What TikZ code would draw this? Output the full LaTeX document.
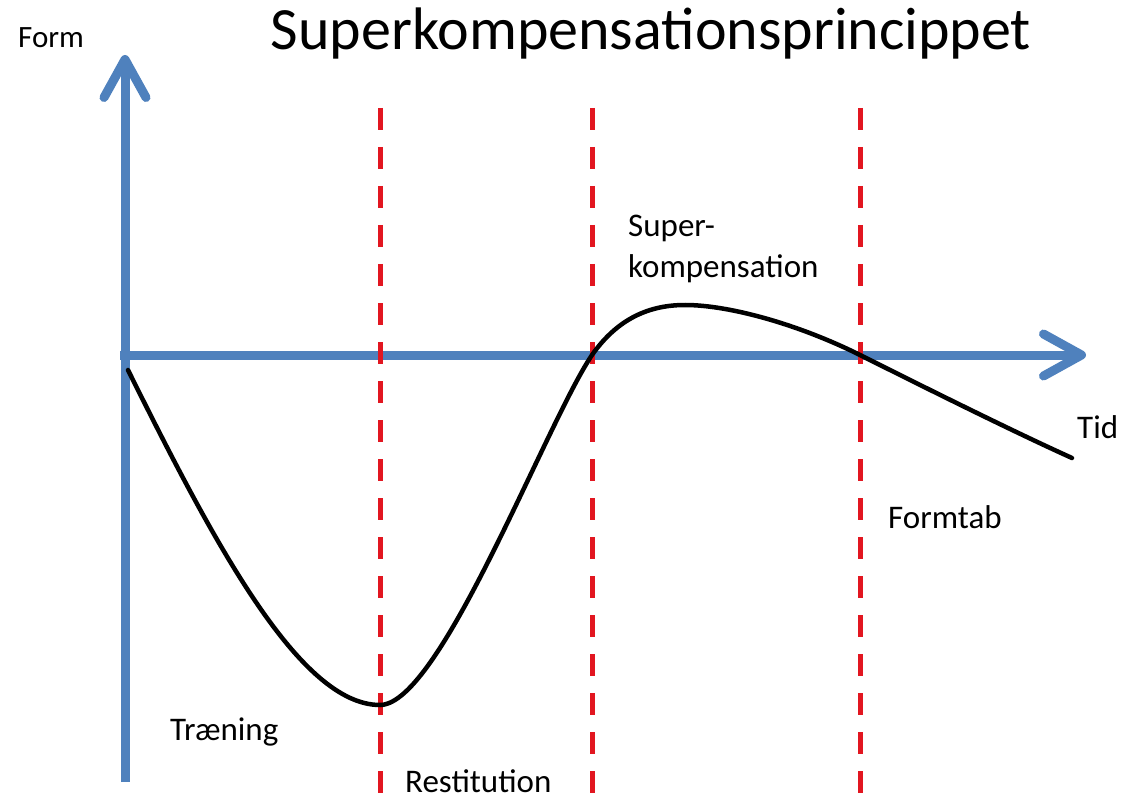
\documentclass[tikz,border=0pt]{standalone}
\usepackage{fontspec}
\setmainfont{Carlito}
\usetikzlibrary{arrows.meta}
\definecolor{axisblue}{RGB}{79,129,189}
\definecolor{phasered}{RGB}{226,22,32}
\tikzset{
    axis/.style={line width=9pt, color=axisblue, -{Straight Barb[length=38pt, width=42pt, round]}},
    phase/.style={line width=5pt, color=phasered, dash pattern=on 22pt off 17pt},
    lbl/.style={anchor=base west, inner sep=0pt, font=\fontsize{33}{40}\selectfont}
}
\begin{document}
\begin{tikzpicture}[x=1pt, y=-1pt]
    \useasboundingbox (0,0) rectangle (1124,802);
    % Title and axis name
    \node[anchor=base, inner sep=0pt, font=\fontsize{60}{64}\selectfont] (title) at (651, 50) {Superkompensationsprincippet};
    \node[anchor=base west, inner sep=0pt, font=\fontsize{31}{34}\selectfont] (form) at (18, 48) {Form};

    % Axes
    \coordinate (ybot) at (125, 782);
    \coordinate (ytop) at (125, 55);
    \coordinate (xleft) at (120, 355);
    \coordinate (xright) at (1086, 355);
    \draw[axis] (ybot) -- (ytop);
    \draw[axis] (xleft) -- (xright);

    % Phase borders
    \foreach \x/\name in {380/a, 592/b, 860/c} {
        \coordinate (\name top) at (\x, 108);
        \coordinate (\name bot) at (\x, 796);
        \draw[phase] (\name top) -- (\name bot);
    }

    % Form curve
    \draw[line width=4.5pt, line cap=round]
        (128,370) .. controls (215,545) and (300,705) .. (380,705)
        .. controls (440,705) and (545,425) .. (592,355)
        .. controls (618,318) and (650,305) .. (685,305)
        .. controls (730,305) and (800,325) .. (860,355)
        .. controls (920,385) and (1010,430) .. (1072,458);

    % Phase labels
    \node[lbl] (traening) at (170, 740) {Træning};
    \node[lbl] (restitution) at (405, 792) {Restitution};
    \node[lbl, align=left] (superkomp) at (628, 277) {Super-\\kompensation};
    \node[lbl] (formtab) at (888, 528) {Formtab};
    \node[lbl] (tid) at (1077, 438) {Tid};
\end{tikzpicture}
\end{document}
